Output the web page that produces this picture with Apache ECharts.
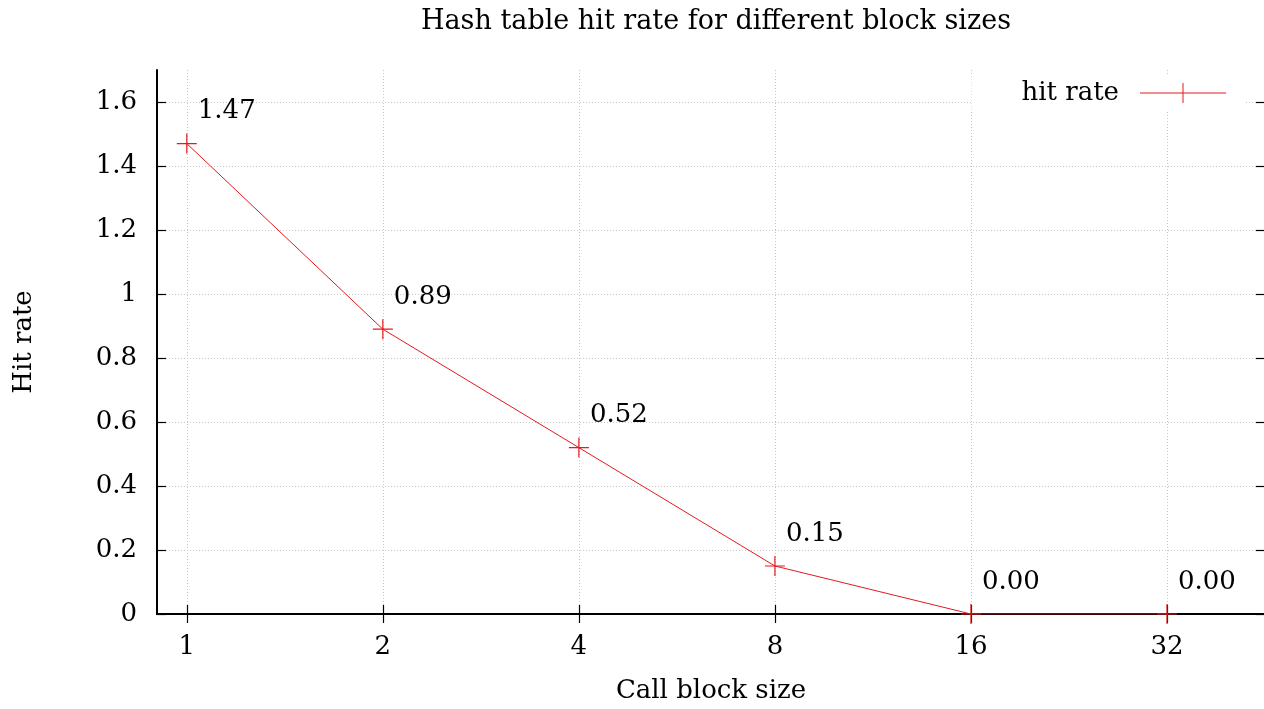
<!DOCTYPE html>
<html>
<head>
<meta charset="utf-8">
<script src="https://cdn.jsdelivr.net/npm/echarts@6/dist/echarts.min.js"></script>
<style>
  html, body { margin: 0; padding: 0; background: #fff; }
  #chart { width: 1264px; height: 709px; }
</style>
</head>
<body>
<div id="chart"></div>
<script>
// Call block sizes and measured hash table hit rate
const blockSizes = [1, 2, 4, 8, 16, 32];
const hitRates = [1.47, 0.89, 0.52, 0.15, 0.00, 0.00];
const yTicks = [0, 0.2, 0.4, 0.6, 0.8, 1, 1.2, 1.4, 1.6];

const FONT = 'DejaVu Serif';
const FS = 26;
const RED = '#e41a1c';
const plusSymbol = 'path://M0,9.4 H20 V10.6 H0 Z M9.4,0 H10.6 V20 H9.4 Z';

const chart = echarts.init(document.getElementById('chart'));

const gridLine = { show: true, lineStyle: { color: '#c8c8c8', type: [1, 2], width: 1 } };
const frameLine = { show: true, lineStyle: { color: '#000', width: 2 } };
const tickStyle = { show: true, inside: true, length: 9, lineStyle: { color: '#000', width: 1.2 } };

chart.setOption({
  animation: false,
  backgroundColor: '#fff',
  textStyle: { fontFamily: FONT },
  title: {
    text: 'Hash table hit rate for different block sizes',
    left: 711, top: 3, textAlign: 'center',
    textStyle: { fontFamily: FONT, fontSize: 27, fontWeight: 'normal', color: '#000' }
  },
  legend: {
    right: 18, top: 74,
    align: 'right',
    backgroundColor: '#fff',
    padding: [6, 20, 6, 50],
    itemWidth: 86, itemHeight: 20,
    textStyle: { fontFamily: FONT, fontSize: FS, color: '#000', padding: [0, 16, 0, 0] },
    data: [{ name: 'hit rate', icon: 'path://M0,9.5 H86 V10.5 H0 Z M42.5,0 H43.5 V20 H42.5 Z' }]
  },
  grid: { left: 157, top: 70, right: -1, bottom: 95, outerBoundsMode: 'none', containLabel: false },
  xAxis: [{
    type: 'log', logBase: 2, min: 0.9, max: 45.25,
    name: 'Call block size', nameLocation: 'middle', nameGap: 64,
    nameTextStyle: { fontFamily: FONT, fontSize: FS, color: '#000' },
    axisLine: frameLine,
    axisTick: Object.assign({ customValues: blockSizes }, tickStyle),
    axisLabel: { fontFamily: FONT, fontSize: FS, color: '#000', margin: 20, customValues: blockSizes,
      formatter: v => String(v) },
    splitLine: gridLine,
    minorTick: { show: false }
  }, {
    type: 'log', logBase: 2, min: 0.9, max: 45.25, position: 'top',
    axisLine: frameLine,
    axisTick: Object.assign({ customValues: blockSizes }, tickStyle),
    axisLabel: { show: false },
    splitLine: { show: false }
  }],
  yAxis: [{
    type: 'value', min: 0, max: 1.7, interval: 0.2,
    name: 'Hit rate', nameLocation: 'middle', nameGap: 120, nameRotate: 90,
    nameTextStyle: { fontFamily: FONT, fontSize: FS, color: '#000' },
    axisLine: frameLine,
    axisTick: Object.assign({ customValues: yTicks }, tickStyle),
    axisLabel: { fontFamily: FONT, fontSize: FS, color: '#000', margin: 20, customValues: yTicks,
      formatter: v => String(v) },
    splitLine: gridLine
  }, {
    type: 'value', min: 0, max: 1.7, interval: 0.2, position: 'right',
    axisLine: frameLine,
    axisTick: Object.assign({ customValues: yTicks }, tickStyle),
    axisLabel: { show: false },
    splitLine: { show: false }
  }],
  series: [{
    name: 'hit rate',
    type: 'line',
    data: blockSizes.map((b, i) => [b, hitRates[i]]),
    symbol: plusSymbol,
    symbolSize: 20,
    showAllSymbol: true,
    lineStyle: { color: RED, width: 1 },
    itemStyle: { color: RED },
    label: {
      show: true,
      position: [21, -35],
      fontFamily: FONT, fontSize: FS, color: '#000',
      formatter: p => p.value[1].toFixed(2)
    },
    emphasis: { disabled: true },
    z: 3
  }]
});
</script>
</body>
</html>
